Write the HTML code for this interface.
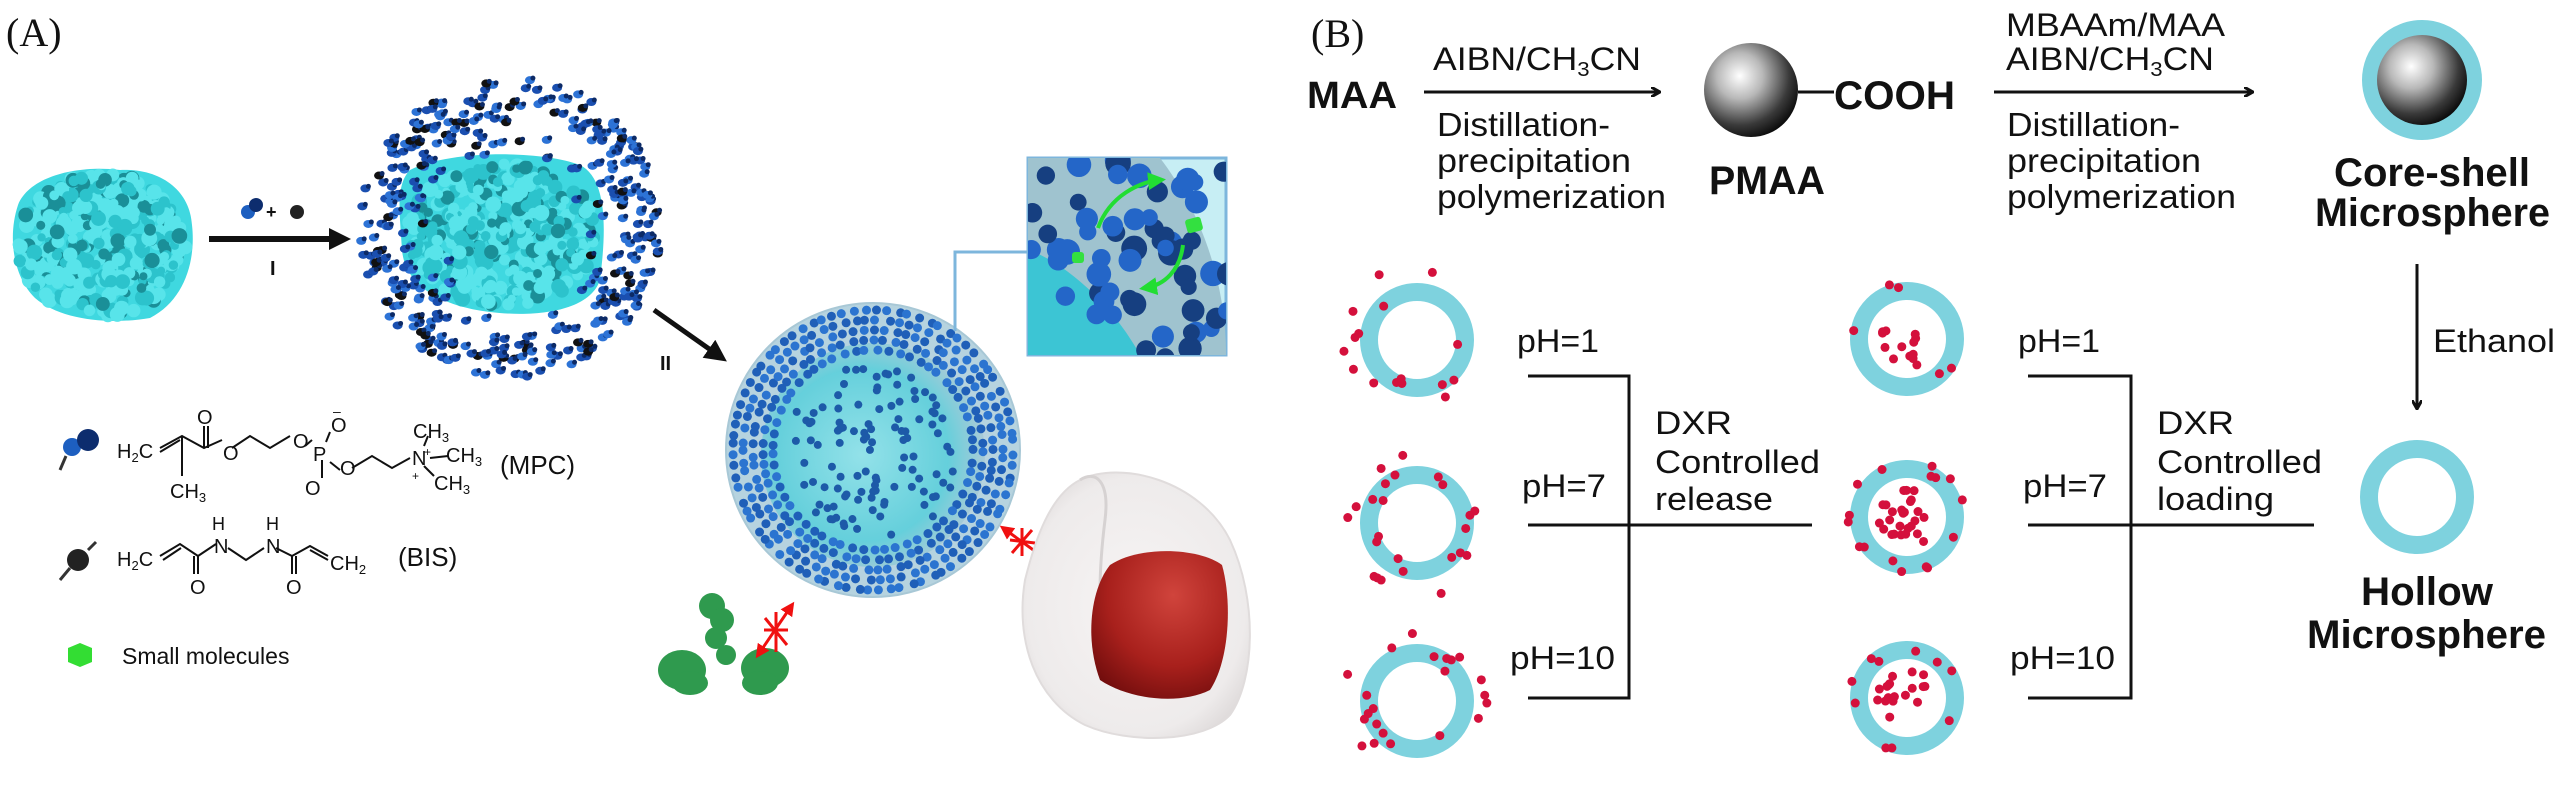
<!DOCTYPE html>
<html><head><meta charset="utf-8"><style>
html,body{margin:0;padding:0;background:#fff;}
svg{display:block;}
text{font-family:"Liberation Sans",Arial,sans-serif;fill:#111;}
.s{font-family:"Liberation Serif",serif;}
.b{font-weight:bold;}
</style></head><body>
<svg id="sv" width="2567" height="806" viewBox="0 0 2567 806" xmlns="http://www.w3.org/2000/svg">
<defs>
<radialGradient id="ball" cx="0.38" cy="0.35" r="0.7">
<stop offset="0" stop-color="#ffffff"/><stop offset="0.35" stop-color="#b8b8b8"/><stop offset="0.75" stop-color="#3a3a3a"/><stop offset="1" stop-color="#080808"/></radialGradient>
<radialGradient id="nuc" cx="0.6" cy="0.3" r="0.8">
<stop offset="0" stop-color="#d0443c"/><stop offset="0.6" stop-color="#a8201c"/><stop offset="1" stop-color="#6e0c0c"/></radialGradient>
<radialGradient id="cell" cx="0.5" cy="0.5" r="0.6">
<stop offset="0" stop-color="#f7f4f4"/><stop offset="0.8" stop-color="#eeebeb"/><stop offset="1" stop-color="#dcd8d8"/></radialGradient>
<radialGradient id="sph" cx="0.45" cy="0.5" r="0.55">
<stop offset="0" stop-color="#8fe3ea"/><stop offset="0.7" stop-color="#5ccfdb"/><stop offset="1" stop-color="#a7c9d6"/></radialGradient>
<marker id="ah" markerWidth="10" markerHeight="10" refX="8" refY="5" orient="auto" markerUnits="userSpaceOnUse"><path d="M0,0 L9,5 L0,10" fill="none" stroke="#111" stroke-width="3"/></marker>
<marker id="ah2" markerWidth="22" markerHeight="22" refX="16" refY="11" orient="auto" markerUnits="userSpaceOnUse"><path d="M0,0 L22,11 L0,22 Z" fill="#111"/></marker>
<marker id="ra" markerWidth="14" markerHeight="14" refX="10" refY="7" orient="auto-start-reverse" markerUnits="userSpaceOnUse"><path d="M0,0 L14,7 L0,14 Z" fill="#f01010"/></marker>
<marker id="ga" markerWidth="18" markerHeight="18" refX="12" refY="9" orient="auto" markerUnits="userSpaceOnUse"><path d="M0,0 L18,9 L0,18 Z" fill="#22dd33"/></marker>
<clipPath id="boxclip"><rect x="1028" y="158" width="198" height="197"/></clipPath>
</defs>

<!-- ================= PANEL A ================= -->
<text class="s" x="6" y="46" font-size="40">(A)</text>

<path d="M18,205 C30,175 80,165 120,170 C160,168 190,190 192,225 C196,260 185,300 150,318 C110,325 60,320 35,298 C12,275 8,235 18,205 Z" fill="#3fd8e0"/>
<g id="prot1"></g>

<line x1="209" y1="239" x2="345" y2="239" stroke="#111" stroke-width="6" marker-end="url(#ah2)"/>
<circle cx="248" cy="212" r="7" fill="#1d5fc0"/><circle cx="256" cy="205" r="7" fill="#0d2d6e"/>
<text x="266" y="218" font-size="18" class="b">+</text>
<circle cx="297" cy="212" r="7" fill="#222"/>
<text x="270" y="275" font-size="20" class="b">I</text>

<path d="M410,170 C450,150 540,150 580,165 C610,180 605,240 600,280 C590,310 540,318 490,312 C440,306 405,285 402,250 C400,215 395,185 410,170 Z" fill="#3fd8e0"/>
<g id="prot2"></g>
<g id="cloud"></g>

<line x1="654" y1="310" x2="722" y2="358" stroke="#111" stroke-width="5" marker-end="url(#ah2)"/>
<text x="660" y="370" font-size="20" class="b">II</text>

<circle cx="873" cy="450" r="147" fill="#b6d3df" stroke="#a8c8d6" stroke-width="2"/>
<circle cx="873" cy="455" r="112" fill="url(#sph)" opacity="0.9"/>
<g id="sphdots"></g>

<polyline points="955,331 955,252 1028,252" fill="none" stroke="#7db6dc" stroke-width="3"/>
<rect x="1028" y="158" width="198" height="197" fill="#c7eef4" stroke="#7db6dc" stroke-width="3"/>
<g clip-path="url(#boxclip)">
<path d="M1028,158 L1160,158 C1200,210 1226,280 1226,355 L1028,355 Z" fill="#9fc3cf"/>
<path d="M1028,250 C1060,260 1110,300 1140,355 L1028,355 Z" fill="#3cc5d4"/>
<g id="boxdots"></g>
</g>
<path d="M1098,228 C1110,195 1140,182 1160,180" fill="none" stroke="#22dd33" stroke-width="4" marker-end="url(#ga)"/>
<path d="M1183,245 C1180,270 1165,285 1145,288" fill="none" stroke="#22dd33" stroke-width="4" marker-end="url(#ga)"/>
<rect x="1186" y="218" width="16" height="14" rx="3" fill="#33e040" transform="rotate(-15 1194 225)"/>
<rect x="1072" y="252" width="12" height="11" rx="3" fill="#33e040"/>

<g fill="#2f9a4e">
<circle cx="712" cy="606" r="13"/><circle cx="722" cy="620" r="12"/><circle cx="716" cy="638" r="11"/><circle cx="726" cy="655" r="10"/>
<ellipse cx="682" cy="670" rx="24" ry="20"/><ellipse cx="765" cy="668" rx="24" ry="20"/>
<ellipse cx="690" cy="683" rx="18" ry="12"/><ellipse cx="760" cy="683" rx="18" ry="12"/>
</g>
<line x1="758" y1="655" x2="792" y2="605" stroke="#f01010" stroke-width="3" marker-start="url(#ra)" marker-end="url(#ra)"/>
<path d="M765,618 L787,645 M776,612 L776,652 M764,630 L788,630" stroke="#f01010" stroke-width="3"/>
<line x1="1003" y1="528" x2="1043" y2="557" stroke="#f01010" stroke-width="3" marker-start="url(#ra)" marker-end="url(#ra)"/>
<path d="M1012,553 L1032,530 M1022,528 L1022,556 M1010,540 L1035,543" stroke="#f01010" stroke-width="3"/>

<path d="M1080,480 C1120,460 1200,480 1230,540 C1258,600 1255,680 1230,715 C1205,742 1130,745 1085,725 C1035,700 1015,640 1025,580 C1035,540 1050,495 1080,480 Z" fill="url(#cell)" stroke="#e0dcdc" stroke-width="2"/>
<path d="M1080,480 C1095,470 1110,480 1105,520 C1100,560 1095,620 1110,680" fill="none" stroke="#d6d2d2" stroke-width="3"/>
<path d="M1110,565 C1140,545 1200,548 1222,565 C1232,600 1230,660 1210,690 C1180,705 1130,700 1100,680 C1085,640 1090,590 1110,565 Z" fill="url(#nuc)"/>

<g stroke="#111" stroke-width="2" fill="none">
<path d="M160,448 L182,436 L204,448 L222,440"/>
<path d="M182,436 L182,476"/><path d="M204,448 L204,426"/><path d="M208,448 L208,426"/>
<path d="M160,452 L180,440"/>
<path d="M232,448 L250,436 L270,448 L290,436"/>
<path d="M305,446 L312,440"/><path d="M322,460 L322,478"/><path d="M326,442 L330,432"/><path d="M330,462 L340,470"/>
<path d="M352,468 L372,456 L392,468 L410,458"/>
<path d="M424,446 L428,436"/><path d="M430,458 L448,456"/><path d="M424,466 L434,476"/>
<path d="M160,556 L180,544 L198,556 L216,544"/><path d="M163,560 L181,548"/><path d="M198,556 L198,574"/><path d="M194,556 L194,574"/>
<path d="M228,548 L246,560 L264,548"/>
<path d="M276,548 L292,556 L310,546 L328,556"/><path d="M292,556 L292,574"/><path d="M296,556 L296,574"/><path d="M310,550 L328,560"/>
</g>
<g font-size="20">
<text x="117" y="458">H<tspan font-size="13" dy="4">2</tspan><tspan dy="-4">C</tspan></text>
<text x="197" y="424">O</text><text x="223" y="460">O</text><text x="293" y="448">O</text>
<text x="313" y="461">P</text><text x="331" y="432">O</text><text x="333" y="416" font-size="14">–</text>
<text x="305" y="495">O</text><text x="340" y="475">O</text>
<text x="412" y="465">N</text><text x="424" y="456" font-size="12">+</text><text x="412" y="480" font-size="12">+</text>
<text x="413" y="438">CH<tspan font-size="13" dy="4">3</tspan></text>
<text x="446" y="462">CH<tspan font-size="13" dy="4">3</tspan></text>
<text x="434" y="490">CH<tspan font-size="13" dy="4">3</tspan></text>
<text x="170" y="498">CH<tspan font-size="13" dy="4">3</tspan></text>
<text x="500" y="474" font-size="26">(MPC)</text>
<text x="117" y="566">H<tspan font-size="13" dy="4">2</tspan><tspan dy="-4">C</tspan></text>
<text x="212" y="530" font-size="18">H</text><text x="214" y="553">N</text>
<text x="266" y="530" font-size="18">H</text><text x="266" y="553">N</text>
<text x="190" y="594">O</text><text x="286" y="594">O</text>
<text x="330" y="570">CH<tspan font-size="13" dy="4">2</tspan></text>
<text x="398" y="566" font-size="26">(BIS)</text>
<text x="122" y="664" font-size="23">Small molecules</text>
</g>
<circle cx="72" cy="447" r="9" fill="#1d5fc0"/><circle cx="88" cy="440" r="11" fill="#0d2d6e"/><path d="M60,470 L66,456" stroke="#333" stroke-width="3"/>
<circle cx="78" cy="560" r="11" fill="#222"/><path d="M60,580 L70,568 M88,550 L96,542" stroke="#333" stroke-width="3"/>
<polygon points="68,648 80,643 92,648 92,662 80,667 68,662" fill="#33dd33"/>

<!-- ================= PANEL B ================= -->
<text class="s" x="1311" y="47" font-size="40">(B)</text>
<text x="1307" y="108" font-size="38" class="b" textLength="90" lengthAdjust="spacingAndGlyphs">MAA</text>
<line x1="1424" y1="92" x2="1659" y2="92" stroke="#111" stroke-width="3" marker-end="url(#ah)"/>
<text x="1433" y="70" font-size="32" textLength="208" lengthAdjust="spacingAndGlyphs">AIBN/CH<tspan font-size="20" dy="6">3</tspan><tspan dy="-6">CN</tspan></text>
<g font-size="33">
<text x="1437" y="136" textLength="173" lengthAdjust="spacingAndGlyphs">Distillation-</text>
<text x="1437" y="172" textLength="194" lengthAdjust="spacingAndGlyphs">precipitation</text>
<text x="1437" y="208" textLength="229" lengthAdjust="spacingAndGlyphs">polymerization</text>
</g>
<circle cx="1751" cy="90" r="47" fill="url(#ball)"/>
<line x1="1798" y1="92" x2="1834" y2="92" stroke="#111" stroke-width="3"/>
<text x="1834" y="109" font-size="40" class="b" textLength="121" lengthAdjust="spacingAndGlyphs">COOH</text>
<text x="1709" y="194" font-size="40" class="b" textLength="116" lengthAdjust="spacingAndGlyphs">PMAA</text>

<line x1="1994" y1="92" x2="2252" y2="92" stroke="#111" stroke-width="3" marker-end="url(#ah)"/>
<text x="2006" y="36" font-size="32" textLength="219" lengthAdjust="spacingAndGlyphs">MBAAm/MAA</text>
<text x="2006" y="70" font-size="32" textLength="208" lengthAdjust="spacingAndGlyphs">AIBN/CH<tspan font-size="20" dy="6">3</tspan><tspan dy="-6">CN</tspan></text>
<g font-size="33">
<text x="2007" y="136" textLength="173" lengthAdjust="spacingAndGlyphs">Distillation-</text>
<text x="2007" y="172" textLength="194" lengthAdjust="spacingAndGlyphs">precipitation</text>
<text x="2007" y="208" textLength="229" lengthAdjust="spacingAndGlyphs">polymerization</text>
</g>

<circle cx="2422" cy="80" r="52" fill="none" stroke="#7ed2de" stroke-width="16"/>
<circle cx="2422" cy="80" r="45" fill="url(#ball)"/>
<text x="2334" y="186" font-size="40" class="b" textLength="196" lengthAdjust="spacingAndGlyphs">Core-shell</text>
<text x="2315" y="226" font-size="40" class="b" textLength="235" lengthAdjust="spacingAndGlyphs">Microsphere</text>
<line x1="2417" y1="264" x2="2417" y2="408" stroke="#111" stroke-width="3" marker-end="url(#ah)"/>
<text x="2433" y="352" font-size="32" textLength="122" lengthAdjust="spacingAndGlyphs">Ethanol</text>
<circle cx="2417" cy="497" r="48" fill="none" stroke="#7ed2de" stroke-width="18"/>
<text x="2361" y="605" font-size="40" class="b" textLength="132" lengthAdjust="spacingAndGlyphs">Hollow</text>
<text x="2307" y="648" font-size="40" class="b" textLength="239" lengthAdjust="spacingAndGlyphs">Microsphere</text>

<g fill="none" stroke="#7ed2de" stroke-width="18">
<circle cx="1417" cy="340" r="48"/><circle cx="1417" cy="523" r="48"/><circle cx="1417" cy="701" r="48"/>
<circle cx="1907" cy="339" r="48"/><circle cx="1907" cy="517" r="48"/><circle cx="1907" cy="698" r="48"/>
</g>
<g id="reddots" fill="#d4103c"></g>

<g stroke="#111" stroke-width="3" fill="none">
<path d="M1528,376 L1629,376 L1629,698 L1528,698"/><path d="M1528,525 L1812,525"/>
<path d="M2028,376 L2131,376 L2131,698 L2028,698"/><path d="M2028,525 L2314,525"/>
</g>
<g font-size="32">
<text x="1517" y="352" textLength="82" lengthAdjust="spacingAndGlyphs">pH=1</text>
<text x="1522" y="497" textLength="84" lengthAdjust="spacingAndGlyphs">pH=7</text>
<text x="1510" y="669" textLength="105" lengthAdjust="spacingAndGlyphs">pH=10</text>
<text x="1655" y="434" textLength="77" lengthAdjust="spacingAndGlyphs">DXR</text>
<text x="1655" y="473" textLength="165" lengthAdjust="spacingAndGlyphs">Controlled</text>
<text x="1655" y="510" textLength="118" lengthAdjust="spacingAndGlyphs">release</text>
<text x="2018" y="352" textLength="82" lengthAdjust="spacingAndGlyphs">pH=1</text>
<text x="2023" y="497" textLength="84" lengthAdjust="spacingAndGlyphs">pH=7</text>
<text x="2010" y="669" textLength="105" lengthAdjust="spacingAndGlyphs">pH=10</text>
<text x="2157" y="434" textLength="77" lengthAdjust="spacingAndGlyphs">DXR</text>
<text x="2157" y="473" textLength="165" lengthAdjust="spacingAndGlyphs">Controlled</text>
<text x="2157" y="510" textLength="117" lengthAdjust="spacingAndGlyphs">loading</text>
</g>
</svg>
<script>
(function(){
var NS="http://www.w3.org/2000/svg",s=7;
function r(){s=(s*16807)%2147483647;return s/2147483647;}
function el(g,t,a){var e=document.createElementNS(NS,t);for(var k in a)e.setAttribute(k,a[k]);g.appendChild(e);return e;}
function prot(id,cx,cy,rx,ry,n){var g=document.getElementById(id);
 for(var i=0;i<n;i++){var a=r()*6.283,d=Math.sqrt(r());var x=cx+Math.cos(a)*rx*d,y=cy+Math.sin(a)*ry*d;
 var c=r();var f=c<0.18?"#1a8f98":(c<0.55?"#2cc3cc":"#58e4ea");el(g,"circle",{cx:x,cy:y,r:4+r()*4,fill:f});}}
prot("prot1",102,245,85,72,420);
prot("prot2",502,235,95,72,420);
var g=document.getElementById("cloud");
for(var i=0;i<420;i++){var a=r()*6.283,d=0.45+0.55*Math.sqrt(r());var x=510+Math.cos(a)*150*d,y=228+Math.sin(a)*150*d;
 if(r()<0.5&&d<0.7)continue;var c=r();var f=c<0.2?"#111":(c<0.6?"#1a4fb0":"#2d73d6");
 el(g,"ellipse",{cx:x,cy:y,rx:5,ry:4,fill:f});el(g,"circle",{cx:x+3,cy:y-2,r:2.5,fill:"#0c2a66"});}
g=document.getElementById("sphdots");
for(var ring=0;ring<5;ring++){var R=140-ring*10,n=Math.round(2*Math.PI*R/11);
 for(var i=0;i<n;i++){var a=i/n*6.283+ring*0.3+r()*0.05;el(g,"circle",{cx:873+Math.cos(a)*R,cy:450+Math.sin(a)*R,r:4.5,fill:(r()<0.5?"#1f5fb8":"#2b74d0")});}}
for(var i=0;i<110;i++){var a=r()*6.283,d=Math.sqrt(r())*88;el(g,"circle",{cx:873+Math.cos(a)*d,cy:452+Math.sin(a)*d,r:4,fill:"#1d5aa8"});}
g=document.getElementById("boxdots");
for(var i=0;i<70;i++){var x=1030+r()*200,y=160+r()*200;var dd=Math.hypot(x-1028,y-355);if(dd<90&&r()<0.7)continue;
 el(g,"circle",{cx:x,cy:y,r:8+r()*5,fill:(r()<0.5?"#163f80":"#2466c8")});}
g=document.getElementById("reddots");
function outer(cx,cy,n){for(var i=0;i<n;i++){var a=r()*6.283,d=40+r()*36;el(g,"circle",{cx:cx+Math.cos(a)*d,cy:cy+Math.sin(a)*d,r:4.5});}}
function inner(cx,cy,n,m){for(var i=0;i<n;i++){var a=r()*6.283,d=Math.sqrt(r())*30;el(g,"circle",{cx:cx+Math.cos(a)*d,cy:cy+Math.sin(a)*d,r:4.5});}
 for(var i=0;i<m;i++){var a=r()*6.283,d=46+r()*14;el(g,"circle",{cx:cx+Math.cos(a)*d,cy:cy+Math.sin(a)*d,r:4.5});}}
outer(1417,340,16);outer(1417,523,24);outer(1417,701,22);
inner(1907,339,14,5);inner(1907,517,26,16);inner(1907,698,18,10);
})();
</script>
</body></html>
